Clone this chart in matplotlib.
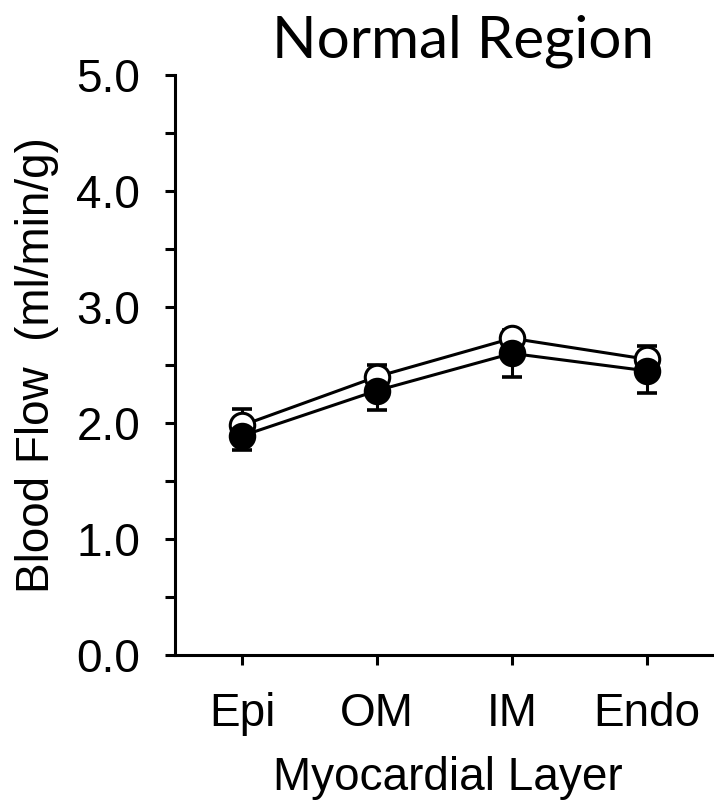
import matplotlib
matplotlib.use("Agg")
import matplotlib.pyplot as plt
from matplotlib.ticker import FormatStrFormatter, MultipleLocator

# values
layers = ["Epi", "OM", "IM", "Endo"]
open_mean = [1.98, 2.40, 2.73, 2.55]
open_err = [0.14, 0.10, 0.07, 0.11]
filled_mean = [1.89, 2.28, 2.60, 2.45]
filled_err = [0.12, 0.17, 0.20, 0.19]

plt.rcParams["font.family"] = ["Liberation Sans", "DejaVu Sans"]

fig = plt.figure(figsize=(7.14, 8.09), dpi=100)
ax = fig.add_axes([175 / 714, 154 / 809, 539 / 714, 580 / 809])

x = list(range(len(layers)))
lw = 2.2
ms = 17.6

# error bars: open series upward, filled series downward
ax.errorbar(x, open_mean, yerr=[[0] * len(x), open_err], fmt="none",
            ecolor="black", elinewidth=lw, capsize=7, capthick=2.6, zorder=1)
ax.errorbar(x, filled_mean, yerr=[filled_err, [0] * len(x)], fmt="none",
            ecolor="black", elinewidth=lw, capsize=7, capthick=2.6, zorder=1)

ax.plot(x, open_mean, color="black", lw=lw, marker="o", ms=ms,
        mfc="white", mec="black", mew=lw, zorder=3, clip_on=False)
ax.plot(x, filled_mean, color="black", lw=lw, marker="o", ms=ms,
        mfc="black", mec="black", mew=lw, zorder=4, clip_on=False)

ax.set_xlim(-0.5, 3.5)
ax.set_ylim(0, 5)
ax.set_xticks(x)
ax.set_xticklabels(layers)
ax.yaxis.set_major_locator(MultipleLocator(1.0))
ax.yaxis.set_minor_locator(MultipleLocator(0.5))
ax.yaxis.set_major_formatter(FormatStrFormatter("%.1f"))

for side in ("top", "right"):
    ax.spines[side].set_visible(False)
for side in ("left", "bottom"):
    ax.spines[side].set_linewidth(lw)

ax.tick_params(axis="both", which="both", direction="out", length=7, width=lw,
               labelsize=33)
ax.tick_params(axis="y", which="both", pad=18)
ax.tick_params(axis="x", pad=20)

fig.text(37 / 714, 0.549, "Blood Flow  (ml/min/g)", rotation=90,
         ha="center", va="center", fontsize=33)
fig.text(448 / 714, 19 / 809, "Myocardial Layer", ha="center",
         va="baseline", fontsize=33)
fig.text(463 / 714, 752 / 809, "Normal Region", ha="center", va="baseline",
         fontsize=42, family=["Lato", "DejaVu Sans"])

fig.savefig("out.png", dpi=100)
